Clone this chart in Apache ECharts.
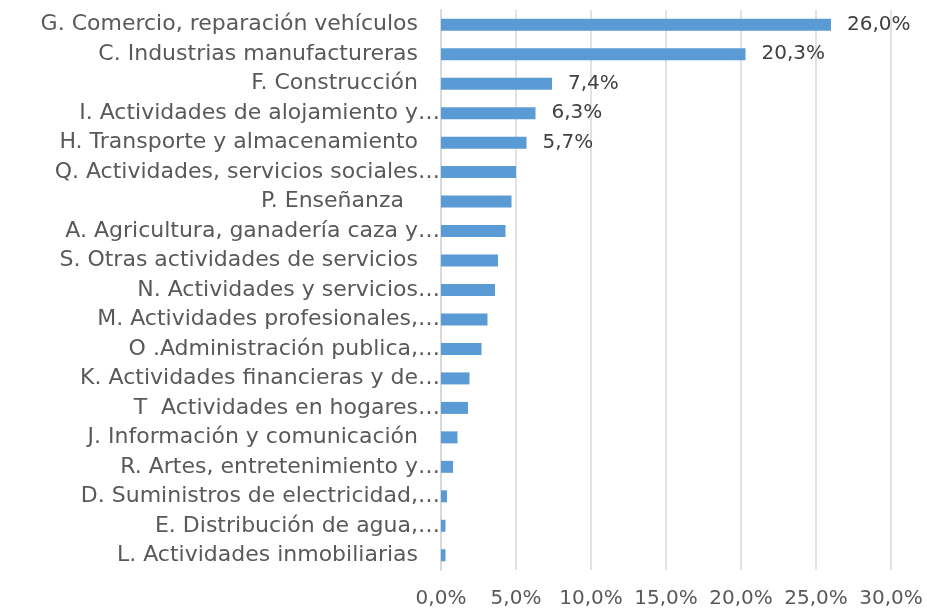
<!DOCTYPE html>
<html><head><meta charset="utf-8">
<script src="https://cdn.jsdelivr.net/npm/echarts@6/dist/echarts.min.js"></script>
<style>html,body{margin:0;padding:0;background:#fff}#c{width:927px;height:611px}</style>
</head><body><div id="c"></div>
<script>
const categories = [
  "G. Comercio, reparación vehículos",
  "C. Industrias manufactureras",
  "F. Construcción",
  "I. Actividades de alojamiento y…",
  "H. Transporte y almacenamiento",
  "Q. Actividades, servicios sociales…",
  "P. Enseñanza  ",
  "A. Agricultura, ganadería caza y…",
  "S. Otras actividades de servicios",
  "N. Actividades y servicios…",
  "M. Actividades profesionales,…",
  "O .Administración publica,…",
  "K. Actividades financieras y de…",
  "T  Actividades en hogares…",
  "J. Información y comunicación",
  "R. Artes, entretenimiento y…",
  "D. Suministros de electricidad,…",
  "E. Distribución de agua,…",
  "L. Actividades inmobiliarias"
];
const values = [26.0, 20.3, 7.4, 6.3, 5.7, 5.0, 4.7, 4.3, 3.8, 3.6, 3.1, 2.7, 1.9, 1.8, 1.1, 0.8, 0.4, 0.3, 0.3];
const labeledCount = 5;
const xTicks = [0, 5, 10, 15, 20, 25, 30];

const fmt = v => v.toFixed(1).replace('.', ',') + '%';
const FONT = '"DejaVu Sans", sans-serif';
const catStyle = {color: '#595959', fontSize: 22, fontFamily: FONT};
const chart = echarts.init(document.getElementById('c'), null, {renderer: 'canvas'});
chart.setOption({
  animation: false,
  grid: {left: 441, right: 36, top: 10, bottom: 41, containLabel: false},
  xAxis: {
    type: 'value', min: xTicks[0], max: xTicks[xTicks.length - 1], interval: 5,
    axisLine: {show: false}, axisTick: {show: false},
    splitLine: {show: true, lineStyle: {color: '#d9d9d9', width: 1.5}},
    axisLabel: {formatter: v => fmt(v), color: '#595959', fontSize: 20, fontFamily: FONT, margin: 19}
  },
  yAxis: {
    type: 'category', data: categories, inverse: true,
    axisLine: {show: true, lineStyle: {color: '#d9d9d9', width: 2}},
    axisTick: {show: false},
    axisLabel: Object.assign({
      margin: 1,
      formatter: s => (s.endsWith('…') ? '{t|' : '{n|') + s + '}',
      rich: {
        t: Object.assign({}, catStyle),
        n: Object.assign({padding: [0, 22, 0, 0]}, catStyle)
      }
    }, catStyle)
  },
  series: [{
    type: 'bar', data: values.map((v, i) => ({
      value: v,
      label: {show: i < labeledCount}
    })),
    barWidth: 12,
    itemStyle: {color: '#5b9bd5'},
    label: {position: 'right', distance: 16, formatter: p => fmt(p.value), color: '#404040', fontSize: 20, fontFamily: FONT}
  }]
});
</script></body></html>
